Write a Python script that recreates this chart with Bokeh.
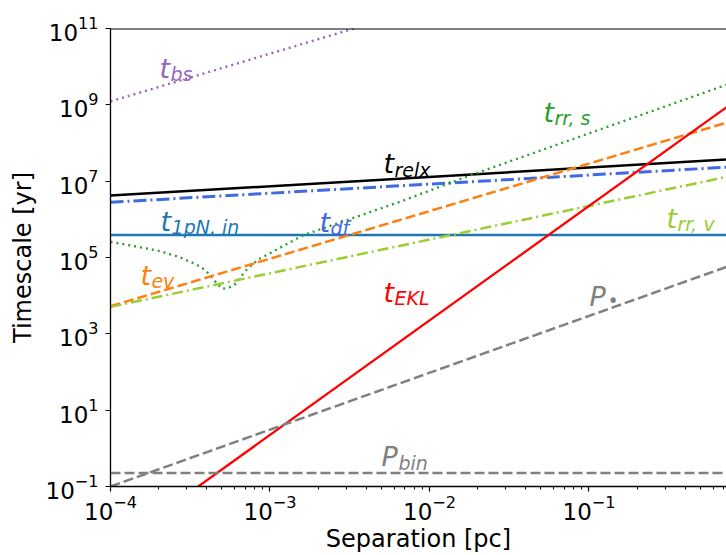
from bokeh.plotting import figure
from bokeh.models import FixedTicker, Span, ColumnDataSource
from bokeh.core.properties import value
from bokeh.embed import file_html
from bokeh.resources import INLINE

# ---------------- data ----------------
sep_line = [1e-4, 1.0]
t_relx = [4.2e6, 4.0e7]
t_df = [2.8e6, 2.5e7]
t_1pn_in = [3.9e5, 3.9e5]
t_ev = [5.3e3, 5.07e8]
t_rr_v = [5.08e3, 1.71e7]
t_ekl = [2.24e-3, 2.24e9]
p_star = [0.1, 9.1e4]
p_bin = [0.226, 0.226]

sep_bs = [1e-4, 1e-2]
t_bs = [1.23e9, 3.9e11]

sep_rr_s = [1.0e-4, 1.503e-4, 2.01e-4, 2.68e-4, 3.41e-4, 3.94e-4, 4.67e-4,
            5.01e-4, 5.52e-4, 6.08e-4, 6.53e-4, 7.19e-4, 8.51e-4, 1.62e-3,
            6.58e-3, 1.81e-2, 1.0]
t_rr_s = [2.57e5, 1.89e5, 1.49e5, 1.04e5, 6.70e4, 4.69e4, 2.04e4,
          1.51e4, 1.61e4, 2.04e4, 3.03e4, 4.98e4, 9.02e4, 3.86e5,
          2.92e6, 1.43e7, 5.37e9]

x_major = [1e-4, 1e-3, 1e-2, 1e-1, 1.0]
x_minor = [m * d for d in [1e-4, 1e-3, 1e-2, 1e-1] for m in range(2, 10)]
y_major = [1e-1, 1e1, 1e3, 1e5, 1e7, 1e9, 1e11]

# curve labels: main letter, subscript, anchor (data), colour, subscript offset
lab_main = ["t", "t", "t", "t", "t", "t", "t", "t", "P", "P"]
lab_sub = ["bs", "relx", "1pN, in", "df", "ev", "rr, s", "rr, v", "EKL", "•", "bin"]
lab_x = [2.03e-4, 5.15e-3, 2.06e-4, 2.04e-3, 1.54e-4, 5.19e-2, 3.06e-1, 5.15e-3, 1.007e-1, 5.0e-3]
lab_y = [9.2e9, 2.86e7, 9.04e5, 8.51e5, 3.42e4, 6.32e8, 1.08e6, 1.24e4, 9.23e3, 0.597]
lab_col = ["#9467bd", "black", "#1f77b4", "#4169e1", "#ff7f0e", "#2ca02c",
           "#9acd32", "red", "gray", "gray"]
sub_dx = [11, 11, 11, 11, 11, 11, 11, 11, 18, 17]
sub_dy = [6, 6, 6, 6, 6, 6, 6, 6, 3, 6]
sub_style = ["italic"] * 8 + ["normal", "italic"]

# ---------------- figure ----------------
p = figure(width=726, height=555, x_axis_type="log", y_axis_type="log",
           x_range=(1e-4, 0.728), y_range=(1e-1, 1e11),
           output_backend="svg", toolbar_location=None,
           min_border_left=110, min_border_right=0,
           min_border_top=28, min_border_bottom=63)
p.outline_line_color = None
p.grid.visible = False
p.background_fill_color = "white"

dot = "2 4"
dash = "10 4"
dashdot = "11 4 2 4"

p.line(sep_bs, t_bs, line_color="#9467bd", line_width=2.4, line_dash=dot)
p.line(sep_line, t_relx, line_color="black", line_width=2.5)
p.line(sep_line, t_df, line_color="#4169e1", line_width=3, line_dash="13 4 2 4")
p.line(sep_line, t_1pn_in, line_color="#1f77b4", line_width=2.5)
p.line(sep_rr_s, t_rr_s, line_color="#2ca02c", line_width=2.4, line_dash=dot)
p.line(sep_line, t_ev, line_color="#ff7f0e", line_width=2.5, line_dash=dash)
p.line(sep_line, t_rr_v, line_color="#9acd32", line_width=2.5, line_dash=dashdot)
p.line(sep_line, t_ekl, line_color="red", line_width=2.3)
p.line(sep_line, p_star, line_color="gray", line_width=2.5, line_dash=dash)
p.line(sep_line, p_bin, line_color="gray", line_width=2.5, line_dash=dash)

src = ColumnDataSource(dict(x=lab_x, y=lab_y, main=lab_main, sub=lab_sub,
                            col=lab_col, dx=sub_dx, dy=sub_dy, st=sub_style))
p.text(x="x", y="y", text="main", source=src, text_color="col",
       text_font=value("DejaVu Sans"), text_font_style="italic",
       text_font_size="27px", text_baseline="alphabetic", text_align="left")
p.text(x="x", y="y", text="sub", source=src, text_color="col",
       x_offset="dx", y_offset="dy",
       text_font=value("DejaVu Sans"), text_font_style="st",
       text_font_size="19px", text_baseline="alphabetic", text_align="left")

p.add_layout(Span(location=1e11, dimension="width", line_color="black",
                  line_width=2))

for ax in (p.xaxis[0], p.yaxis[0]):
    ax.axis_line_width = 1.3
    ax.major_tick_out = 5
    ax.major_tick_in = 0
    ax.minor_tick_out = 3
    ax.minor_tick_in = 0
    ax.major_tick_line_width = 1.2
    ax.minor_tick_line_width = 1
    ax.major_label_text_font = "DejaVu Sans"
    ax.major_label_text_font_size = "23px"
    ax.major_label_text_color = "black"
    ax.axis_label_text_font = "DejaVu Sans"
    ax.axis_label_text_font_size = "24px"
    ax.axis_label_text_font_style = "normal"
    ax.axis_label_text_color = "black"

p.xaxis[0].ticker = FixedTicker(ticks=x_major, minor_ticks=x_minor)
p.yaxis[0].ticker = FixedTicker(ticks=y_major, minor_ticks=[])
p.xaxis[0].axis_label = "Separation [pc]"
p.yaxis[0].axis_label = "Timescale [yr]"
p.xaxis[0].major_label_standoff = 3
p.xaxis[0].axis_label_standoff = 2
p.yaxis[0].major_label_standoff = 7
p.yaxis[0].axis_label_standoff = 6

open("out.html", "w").write(file_html(p, INLINE))
